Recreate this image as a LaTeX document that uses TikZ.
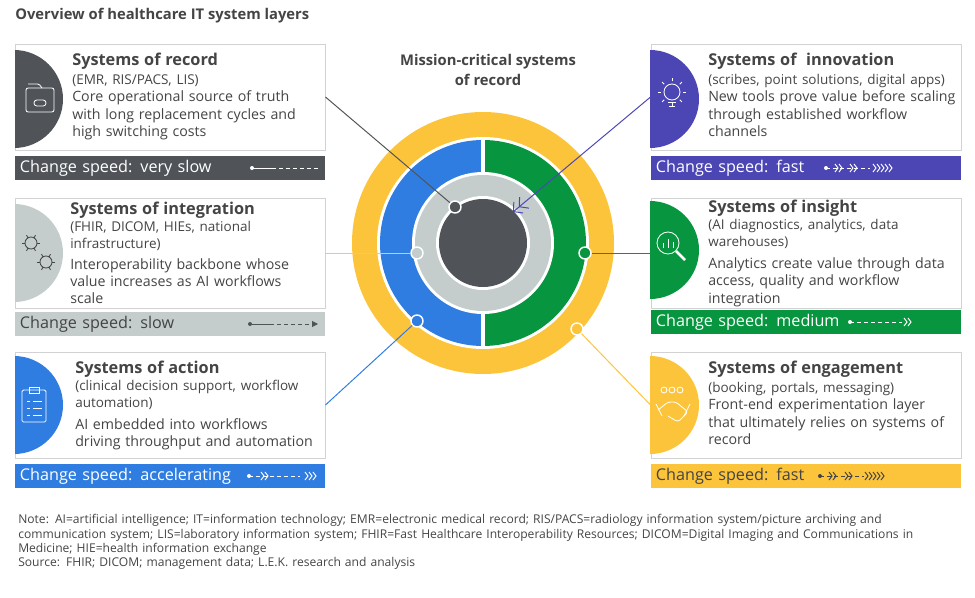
\documentclass[tikz,border=0pt]{standalone}
\usepackage{fontspec}
\setmainfont{Open Sans}
\usetikzlibrary{arrows.meta, positioning, calc}
\definecolor{recordcolor}{RGB}{80,84,89}
\definecolor{integcolor}{RGB}{197,204,204}
\definecolor{actioncolor}{RGB}{47,125,225}
\definecolor{innovcolor}{RGB}{76,70,181}
\definecolor{insightcolor}{RGB}{7,150,63}
\definecolor{engagecolor}{RGB}{252,196,58}
\definecolor{textcolor}{RGB}{68,68,68}
\definecolor{bordercolor}{RGB}{210,210,210}
\hyphenpenalty=10000
\exhyphenpenalty=10000

\begin{document}
\begin{tikzpicture}[x=0.025cm, y=-0.025cm,
  % Card and bar styles
  card/.style={
    rectangle,
    draw=bordercolor,
    line width=0.6pt,
    minimum width=7.75cm,
    minimum height=2.65cm,
    inner sep=0pt
  },
  cardtext/.style={
    anchor=north west,
    text width=6.5cm,
    align=left,
    inner sep=0pt,
    text=textcolor,
    font=\fontsize{10.1}{12.3}\selectfont
  },
  bar/.style={
    rectangle,
    minimum width=7.75cm,
    minimum height=0.5cm,
    text width=7.5cm,
    align=left,
    inner sep=3pt,
    text=white,
    font=\fontsize{11.5}{12}\selectfont
  },
  speed/.style={line width=0.7pt, draw=white},
  chev/.style={line width=0.7pt, draw=white},
  dot/.style={circle, draw=white, line width=1pt, minimum size=0.3cm, inner sep=0pt},
  link/.style={line width=0.7pt},
  icon/.style={draw=white, line width=0.6pt}
]
\useasboundingbox (0,0) rectangle (975,598);

% ===== TITLE =====
\node[anchor=west, inner sep=0pt, text=textcolor, font=\fontsize{10.5}{12}\selectfont\bfseries] (title) at (15,16) {Overview of healthcare IT system layers};
\node[align=center, inner sep=0pt, text=textcolor, font=\fontsize{10.5}{14}\selectfont\bfseries] (mission) at (488,70) {Mission-critical systems\\of record};

% ===== CENTRAL RINGS =====
\coordinate (c) at (483,243);
\fill[engagecolor] (c) circle (131);
\fill[white] (c) circle (106);
\begin{scope}
  \clip (340,100) rectangle (483,400);
  \fill[actioncolor] (c) circle (103);
\end{scope}
\begin{scope}
  \clip (483,100) rectangle (640,400);
  \fill[insightcolor] (c) circle (103);
\end{scope}
\fill[white] (c) circle (71);
\fill[white] (481,138) rectangle (485,348);
\fill[integcolor] (c) circle (68);
\fill[white] (c) circle (47);
\fill[recordcolor] (c) circle (44);

% ===== LEFT CARDS =====
\node[card] (rec) at (170,97) {};
\begin{scope}
  \clip (15,44) rectangle (325,150);
  \fill[recordcolor] (14,99) circle (49);
\end{scope}
\node[cardtext] (rectext) at (72,53) {{\bfseries\fontsize{11.6}{13}\selectfont Systems of record}\\[1pt]{\fontsize{9.6}{11}\selectfont (EMR, RIS/PACS, LIS)}\\Core operational source of truth\\with long replacement cycles and\\high switching costs};
\node[bar, fill=recordcolor] (recbar) at (170,168) {Change speed: very slow};

\node[card, minimum height=2.75cm] (integ) at (170,253) {};
\begin{scope}
  \clip (15,198) rectangle (325,308);
  \fill[integcolor] (14,253) circle (49);
\end{scope}
\node[cardtext] (integtext) at (70,202) {{\bfseries\fontsize{11.6}{13}\selectfont Systems of integration}\\[1pt]{\fontsize{9.6}{11}\selectfont (FHIR, DICOM, HIEs, national\\infrastructure)}\\[2pt]Interoperability backbone whose\\value increases as AI workflows\\scale};
\node[bar, fill=integcolor, text=textcolor] (integbar) at (170,324) {Change speed: slow};

\node[card] (act) at (170,405) {};
\begin{scope}
  \clip (15,352) rectangle (325,458);
  \fill[actioncolor] (14,405) circle (49);
\end{scope}
\node[cardtext] (acttext) at (75,361) {{\bfseries\fontsize{11.6}{13}\selectfont Systems of action}\\[1pt]{\fontsize{9.6}{11}\selectfont (clinical decision support, workflow\\automation)}\\[3pt]AI embedded into workflows\\driving throughput and automation};
\node[bar, fill=actioncolor] (actbar) at (170,476) {Change speed: accelerating};

% ===== RIGHT CARDS =====
\node[card] (inn) at (806,97) {};
\begin{scope}
  \clip (650,44) rectangle (963,150);
  \fill[innovcolor] (650,99) circle (49);
\end{scope}
\node[cardtext] (inntext) at (708,53) {{\bfseries\fontsize{11.6}{13}\selectfont Systems of\ \ innovation}\\[1pt]{\fontsize{9.6}{11}\selectfont (scribes, point solutions, digital apps)}\\New tools prove value before scaling\\through established workflow\\channels};
\node[bar, fill=innovcolor] (innbar) at (806,168) {Change speed: fast};

\node[card, minimum height=2.75cm] (ins) at (806,253) {};
\begin{scope}
  \clip (650,198) rectangle (963,308);
  \fill[insightcolor] (650,250) circle (49);
\end{scope}
\node[cardtext] (instext) at (708,200) {{\bfseries\fontsize{11.6}{13}\selectfont Systems of insight}\\[1pt]{\fontsize{9.6}{11}\selectfont (AI diagnostics, analytics, data\\warehouses)}\\[3pt]Analytics create value through data\\access, quality and workflow\\integration};
\node[bar, fill=insightcolor] (insbar) at (806,322) {Change speed: medium};

\node[card] (eng) at (806,405) {};
\begin{scope}
  \clip (650,352) rectangle (963,458);
  \fill[engagecolor] (650,405) circle (49);
\end{scope}
\node[cardtext] (engtext) at (708,361) {{\bfseries\fontsize{11.6}{13}\selectfont Systems of engagement}\\[1pt]{\fontsize{9.6}{11}\selectfont (booking, portals, messaging)}\\Front-end experimentation layer\\that ultimately relies on systems of\\record};
\node[bar, fill=engagecolor, text=textcolor] (engbar) at (806,476) {Change speed: fast};

% ===== ICONS (simple outlines) =====
\draw[icon, rounded corners=1.5pt] (26,88) rectangle (54,112);
\draw[icon, rounded corners=1pt] (28,84) -- (39,84) -- (42,88);
\draw[icon, rounded corners=2pt] (34,100) rectangle (46,106);
\draw[icon, draw=textcolor] (31,243) circle (6) (46,262) circle (6);
\foreach \a in {0,60,...,300} {\draw[icon, draw=textcolor] ($(31,243)+(\a:6)$) -- ($(31,243)+(\a:9)$) ($(46,262)+(\a:6)$) -- ($(46,262)+(\a:9)$);}
\draw[icon, rounded corners=1pt] (22,390) rectangle (46,422);
\draw[icon] (29,387) rectangle (39,393);
\foreach \yy in {401,408,415} {\draw[icon] (27,\yy) -- (30,\yy) (33,\yy) -- (42,\yy);}
\draw[icon] (672,92) circle (8);
\draw[icon] (668,102) -- (676,102) (669,106) -- (675,106);
\foreach \a in {0,45,...,315} {\draw[icon] ($(672,92)+(\a:11)$) -- ($(672,92)+(\a:14)$);}
\draw[icon] (668,243) circle (11);
\draw[icon, line width=1.8pt] (676,251) -- (685,260);
\foreach \xx/\hh in {663/5,668/9,673/6} {\draw[icon] (\xx,248) -- (\xx,248-\hh);}
\foreach \xx in {664,672,680} {\draw[icon] (\xx,390) circle (3);}
\draw[icon, rounded corners=2pt] (658,410) -- (668,402) -- (676,402) -- (688,412) -- (678,422) -- (668,416);
\draw[icon] (656,404) -- (662,416) (690,404) -- (684,416);

% ===== SPEED MARKS =====
% very slow
\fill[white] (252,168) circle (2);
\draw[speed] (252,168) -- (272,168);
\draw[speed, dash pattern=on 3pt off 2pt] (272,168) -- (318,168);
% slow
\fill[recordcolor] (250,324) circle (2);
\draw[speed, draw=recordcolor] (250,324) -- (270,324);
\draw[speed, draw=recordcolor, dash pattern=on 3pt off 2pt, -{Triangle[length=1.5mm,width=1.5mm]}] (270,324) -- (318,324);
% accelerating
\fill[white] (249,476) circle (2);
\draw[speed, dash pattern=on 3pt off 2pt] (249,476) -- (300,476);
\foreach \xx in {264,268,308,312,316} {\draw[chev] (\xx-3,472) -- (\xx,476) -- (\xx-3,480);}
% fast (innovation)
\fill[white] (826,168) circle (2);
\draw[speed, dash pattern=on 3pt off 2pt] (826,168) -- (870,168);
\foreach \xx in {838,842,853,857,876,880,884,888,892} {\draw[chev] (\xx-3,164) -- (\xx,168) -- (\xx-3,172);}
% medium
\fill[white] (850,322) circle (2);
\draw[speed, dash pattern=on 3pt off 2pt] (850,322) -- (902,322);
\foreach \xx in {907,911} {\draw[chev] (\xx-3,318) -- (\xx,322) -- (\xx-3,326);}
% fast (engagement)
\fill[textcolor] (820,476) circle (2);
\draw[speed, draw=textcolor, dash pattern=on 3pt off 2pt] (820,476) -- (864,476);
\foreach \xx in {832,836,848,852,868,872,876,880,884} {\draw[chev, draw=textcolor] (\xx-3,472) -- (\xx,476) -- (\xx-3,480);}

% ===== CONNECTORS =====
\node[dot, fill=recordcolor] (drec) at (455,207) {};
\node[dot, fill=integcolor] (dinteg) at (417,253) {};
\node[dot, fill=actioncolor] (dact) at (417,321) {};
\node[dot, fill=insightcolor] (dins) at (585,253) {};
\node[dot, fill=engagecolor] (deng) at (577,329) {};
\coordinate (innend) at (513,212);

\draw[link, draw=recordcolor] (rec.east) -- (drec);
\draw[link, draw=integcolor] (integ.east) -- (dinteg);
\draw[link, draw=actioncolor] (act.east) -- (dact);
\draw[link, draw=insightcolor] (ins.west) -- (dins);
\draw[link, draw=engagecolor] (eng.west) -- (deng);
\draw[link, draw=innovcolor, -{Straight Barb[length=1.6mm,width=3.6mm]Straight Barb[length=1.6mm,width=3.6mm]}] (inn.west) -- (innend);

% ===== NOTES =====
\node[anchor=north west, text width=22.9cm, align=left, inner sep=0pt, text=textcolor, font=\fontsize{8.6}{10.3}\selectfont] (notes) at (18,514) {Note: AI=artificial intelligence; IT=information technology; EMR=electronic medical record; RIS/PACS=radiology information system/picture archiving and communication system; LIS=laboratory information system; FHIR=Fast Healthcare Interoperability Resources; DICOM=Digital Imaging and Communications in Medicine; HIE=health information exchange\\Source: FHIR; DICOM; management data; L.E.K. research and analysis};

\end{tikzpicture}
\end{document}
